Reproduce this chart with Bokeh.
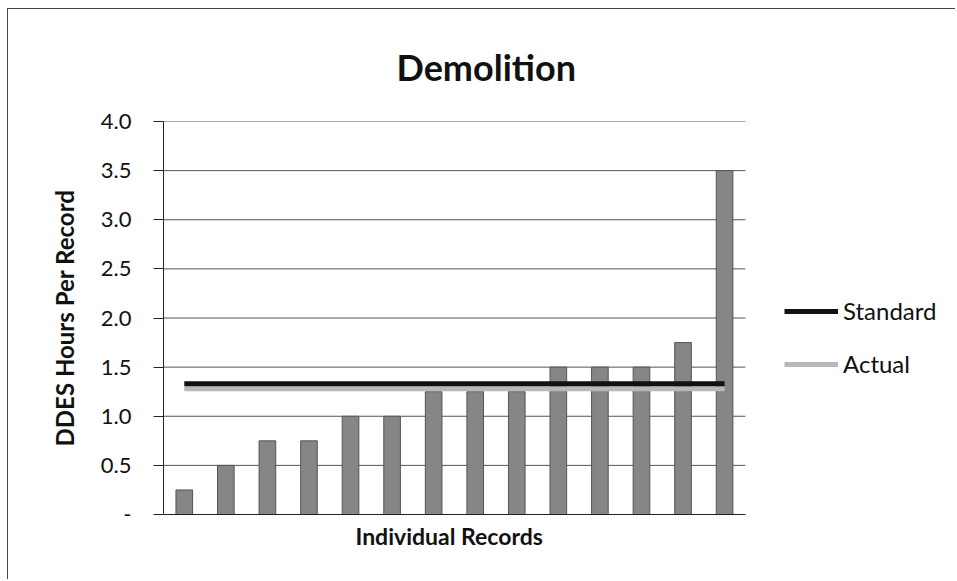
from bokeh.plotting import figure
from bokeh.models import ColumnDataSource, FixedTicker, Legend, LegendItem, Range1d, Title
from bokeh.embed import file_html
from bokeh.resources import INLINE

# ---- data ----
records = list(range(1, 15))
hours = [0.25, 0.5, 0.75, 0.75, 1.0, 1.0, 1.25, 1.25, 1.25, 1.5, 1.5, 1.5, 1.75, 3.5]
standard = [1.33] * 14
actual = [1.28] * 14
y_ticks = [0.0, 0.5, 1.0, 1.5, 2.0, 2.5, 3.0, 3.5, 4.0]
y_tick_labels = ["-", "0.5", "1.0", "1.5", "2.0", "2.5", "3.0", "3.5", "4.0"]
title_text = "Demolition"
y_label = "DDES Hours Per Record"
x_label = "Individual Records"
series_names = ["Standard", "Actual"]

FONT = "Lato"
X_LO, X_HI = 0.5, 14.5      # category extent of the plotted area

# frame extends to the right past the categories so the legend is not clipped
p = figure(width=948, height=571, output_backend="svg", toolbar_location=None,
           x_range=Range1d(X_LO, 19.58), y_range=Range1d(0.0, 4.0),
           min_border_left=155, min_border_right=0, min_border_top=112, min_border_bottom=66,
           title=title_text)
p.outline_line_color = None
p.background_fill_color = "white"
p.border_fill_color = "white"
p.styles = {"margin-left": "7px", "margin-top": "8px",
            "border-left": "1px solid #444", "border-top": "1px solid #444"}

# horizontal gridlines over the category extent only
p.segment(x0=[X_LO] * len(y_ticks), x1=[X_HI] * len(y_ticks), y0=y_ticks, y1=y_ticks,
          line_color="#555555", line_width=1)

src = ColumnDataSource(dict(x=records, h=hours, s=standard, a=actual))
p.vbar(x="x", top="h", width=0.4, source=src, fill_color="#868686", line_color="#555555")
r_act = p.line("x", "a", source=src, line_color="#b8b8b8", line_width=5)
r_std = p.line("x", "s", source=src, line_color="#111111", line_width=5)

# title
p.title.align = "left"
p.title.offset = 233
p.title.standoff = 66
p.title.text_font = FONT
p.title.text_font_style = "bold"
p.title.text_font_size = "36px"
p.title.text_color = "#111111"

# y axis
p.yaxis.ticker = FixedTicker(ticks=y_ticks)
p.yaxis.major_label_overrides = {t: l for t, l in zip(y_ticks, y_tick_labels)}
p.yaxis.major_tick_out = 10
p.yaxis.major_tick_in = 0
p.yaxis.minor_tick_line_color = None
p.yaxis.axis_line_color = "#222222"
p.yaxis.major_tick_line_color = "#222222"
p.yaxis.major_label_standoff = 22
p.yaxis.major_label_text_font = FONT
p.yaxis.major_label_text_font_size = "22px"
p.yaxis.major_label_text_color = "#111111"
p.yaxis.axis_label = y_label
p.yaxis.axis_label_text_font = FONT
p.yaxis.axis_label_text_font_style = "bold"
p.yaxis.axis_label_text_font_size = "24px"
p.yaxis.axis_label_text_color = "#111111"
p.yaxis.axis_label_standoff = 19

# x axis (line only over the categories)
p.xaxis.bounds = (X_LO, X_HI)
p.xaxis.ticker = FixedTicker(ticks=[])
p.xaxis.major_tick_out = 0
p.xaxis.minor_tick_line_color = None
p.xaxis.axis_line_color = "#222222"
p.xgrid.grid_line_color = None
p.ygrid.grid_line_color = None

xt = Title(text=x_label, align="left", offset=192, standoff=10,
           text_font=FONT, text_font_style="bold", text_font_size="23px", text_color="#111111")
p.add_layout(xt, "below")

legend = Legend(items=[LegendItem(label=series_names[0], renderers=[r_std]),
                       LegendItem(label=series_names[1], renderers=[r_act])],
                location=(621, 136), orientation="vertical")
legend.label_text_font = FONT
legend.label_text_font_size = "24px"
legend.label_text_color = "#111111"
legend.glyph_width = 54
legend.glyph_height = 26
legend.label_height = 26
legend.label_standoff = 5
legend.spacing = 24
legend.padding = 0
legend.margin = 0
legend.border_line_color = None
legend.background_fill_alpha = 0
p.add_layout(legend, "center")

open("out.html", "w").write(file_html(p, INLINE))
